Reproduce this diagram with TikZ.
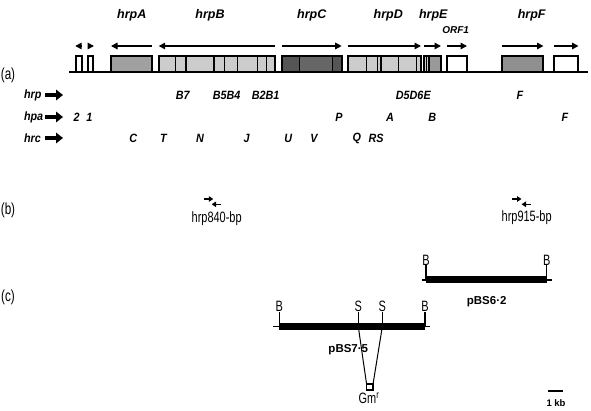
\documentclass[tikz,border=0pt]{standalone}
\usepackage{fontspec}
\setmainfont{Liberation Sans}
\newfontfamily\narrowfont[FakeStretch=0.73]{Liberation Sans}
\newfontfamily\narrowbi[FakeStretch=0.9]{Liberation Sans}
\usetikzlibrary{arrows.meta}
\definecolor{gA}{HTML}{A0A0A0}
\definecolor{gB}{HTML}{CCCCCC}
\definecolor{gC}{HTML}{555555}
\definecolor{gCm}{HTML}{666666}
\definecolor{gE}{HTML}{999999}
\definecolor{gF}{HTML}{8F8F8F}
\begin{document}
\begin{tikzpicture}[x=1pt,y=-1pt,
  every node/.style={inner sep=0pt, outer sep=0pt},
  genebox/.style={draw, line width=1.8pt},
  seg/.style={line width=1.5pt},
  garrow/.style={line width=1.5pt, -{Triangle[length=6.5pt,width=6.5pt]}},
  rowarrow/.style={line width=4.5pt, -{Triangle[length=7pt,width=10.5pt]}},
  primer/.style={line width=1.4pt, -{Triangle[length=4.5pt,width=5.5pt]}},
  glab/.style={font=\fontsize{12.5}{13}\selectfont\bfseries\itshape},
  rlab/.style={font=\narrowbi\fontsize{12}{12}\selectfont\bfseries\itshape},
  plab/.style={font=\fontsize{11.5}{12}\selectfont\bfseries},
  site/.style={font=\narrowfont\fontsize{15}{15}\selectfont},
  panel/.style={font=\narrowfont\fontsize{16}{16}\selectfont},
  bar/.style={line width=7pt},
  thinbar/.style={line width=1.2pt},
  tick/.style={line width=1.2pt},
]
\useasboundingbox (0,0) rectangle (591,411);

% ---------- (a) gene map ----------
\node[panel] (pa) at (8,75) {(a)};

% gene boxes
\draw[genebox, fill=white] (75.7,56) rectangle (81.7,72);
\draw[genebox, fill=white] (87.7,56) rectangle (93.3,72);
\draw[genebox, fill=gA] (111,56) rectangle (151.7,72);
\draw[genebox, fill=gB] (158.7,56) rectangle (275.3,72);
\foreach \x in {175.7,186,214,224.7,237.7,257.7,266.3}
  \draw[seg] (\x,56) -- (\x,72);
\draw[genebox, fill=gC] (282,56) rectangle (341.7,72);
\fill[gCm] (299.3,57) rectangle (332.7,71);
\foreach \x in {299.3,332.7}
  \draw[seg] (\x,56) -- (\x,72);
\draw[genebox, fill=gB] (348,56) rectangle (420.7,72);
\foreach \x in {366.3,377.5,380.8,398.5,416.7}
  \draw[seg] (\x,56) -- (\x,72);
\draw[genebox, fill=gB] (424,56) rectangle (440.7,72);
\fill[gE] (429,57) rectangle (439.8,71);
\foreach \x in {426.7,429}
  \draw[seg] (\x,56) -- (\x,72);
\draw[genebox, fill=white] (446.7,56) rectangle (466.7,72);
\draw[genebox, fill=gF] (501.7,56) rectangle (543.3,72);
\draw[genebox, fill=white] (554,56) rectangle (578.3,72);

% baseline
\coordinate (bl0) at (69,72);
\coordinate (bl1) at (588,72);
\draw[line width=2pt] (bl0) -- (bl1);

% transcription arrows
\draw[garrow] (81.7,46) -- (75.2,46);
\draw[garrow] (88,46) -- (94,46);
\draw[garrow] (151.7,46) -- (111,46);
\draw[garrow] (275.3,46) -- (158.7,46);
\draw[garrow] (282,46) -- (341.7,46);
\draw[garrow] (348,46) -- (421,46);
\draw[garrow] (424,46) -- (441,46);
\draw[garrow] (447,46) -- (467,46);
\draw[garrow] (502,46) -- (543.5,46);
\draw[garrow] (554,46) -- (578.5,46);

% gene labels
\node[glab] (hA) at (131.7,15) {hrpA};
\node[glab] (hB) at (210,15) {hrpB};
\node[glab] (hC) at (311.7,15) {hrpC};
\node[glab] (hD) at (388.3,15) {hrpD};
\node[glab] (hE) at (433.3,15) {hrpE};
\node[font=\fontsize{10}{10}\selectfont\bfseries\itshape] (orf) at (455.7,30) {ORF1};
\node[glab] (hF) at (531.7,15) {hrpF};

% row labels and arrows
\node[rlab, anchor=west] (rhrp) at (24,95) {hrp};
\node[rlab, anchor=west] (rhpa) at (24,117) {hpa};
\node[rlab, anchor=west] (rhrc) at (24,138) {hrc};
\coordinate (ra1) at (63,95);
\coordinate (ra2) at (63,117);
\coordinate (ra3) at (63,138);
\draw[rowarrow] (45,95) -- (ra1);
\draw[rowarrow] (45,117) -- (ra2);
\draw[rowarrow] (45,138) -- (ra3);

\node[rlab] (l1) at (182.7,95) {B7};
\node[rlab] (l2) at (226.7,95) {B5B4};
\node[rlab] (l3) at (265.7,95) {B2B1};
\node[rlab] (l4) at (413.3,95) {D5D6E};
\node[rlab] (l5) at (520,95) {F};

\node[rlab] (m1) at (76.7,117) {2};
\node[rlab] (m2) at (89.3,117) {1};
\node[rlab] (m3) at (339,117) {P};
\node[rlab] (m4) at (390,117) {A};
\node[rlab] (m5) at (432.3,117) {B};
\node[rlab] (m6) at (565,117) {F};

\node[rlab] (n1) at (133.3,138) {C};
\node[rlab] (n2) at (163.3,138) {T};
\node[rlab] (n3) at (200,138) {N};
\node[rlab] (n4) at (246.7,138) {J};
\node[rlab] (n5) at (288.3,138) {U};
\node[rlab] (n6) at (314,138) {V};
\node[rlab] (n7) at (356.7,138) {Q};
\node[rlab] (n8) at (376,138) {RS};

% ---------- (b) primers ----------
\node[panel] (pb) at (8,210) {(b)};
\draw[primer] (204,199) -- (213.3,199);
\draw[primer] (220.7,204.3) -- (211.7,204.3);
\node[site] (p840) at (216.7,219) {hrp840-bp};
\draw[primer] (512.3,199) -- (521.5,199);
\draw[primer] (530.7,204.3) -- (521.5,204.3);
\node[site] (p915) at (526.7,218) {hrp915-bp};

% ---------- (c) clones ----------
\node[panel] (pc) at (8,297) {(c)};

% pBS6.2
\coordinate (a0) at (421.7,280);
\coordinate (a1) at (551.7,280);
\coordinate (aL) at (426,280);
\coordinate (aR) at (546.7,280);
\draw[thinbar] (a0) -- (a1);
\draw[bar] (aL) -- (aR);
\node[site] (aB1) at (426,260) {B};
\node[site] (aB2) at (546.7,260) {B};
\draw[tick] (aL) -- (aB1.south);
\draw[tick] (aR) -- (aB2.south);
\node[plab] (pbs62) at (486.7,302) {pBS6·2};

% pBS7.5
\coordinate (b0) at (273.3,326.7);
\coordinate (b1) at (430,326.7);
\coordinate (bL) at (279.3,326.7);
\coordinate (bR) at (425,326.7);
\coordinate (sL) at (358.3,326.7);
\coordinate (sR) at (382.3,326.7);
\draw[thinbar] (b0) -- (b1);
\draw[bar] (bL) -- (bR);
\node[site] (bB1) at (279.3,306.7) {B};
\node[site] (bB2) at (425,306.7) {B};
\node[site] (bS1) at (358.3,306.7) {S};
\node[site] (bS2) at (382.3,306.7) {S};
\draw[tick] (bL) -- (bB1.south);
\draw[tick] (bR) -- (bB2.south);
\draw[tick] (sL) -- (bS1.south);
\draw[tick] (sR) -- (bS2.south);
\node[plab] (pbs75) at (348.3,350) {pBS7·5};

% Gm cassette
\node[draw, line width=1.2pt, minimum width=6.5pt, minimum height=6pt] (gm) at (369.8,387) {};
\draw[line width=1pt] (sL) -- (gm.north west);
\draw[line width=1pt] (sR) -- (gm.north east);
\node[site] (gml) at (369,398.5) {Gm\textsuperscript{r}};

% scale bar
\coordinate (k0) at (548,391);
\coordinate (k1) at (563,391);
\draw[line width=2pt] (k0) -- (k1);
\node[plab, font=\fontsize{9.5}{10}\selectfont\bfseries] (kb) at (556,403) {1 kb};
\end{tikzpicture}
\end{document}
